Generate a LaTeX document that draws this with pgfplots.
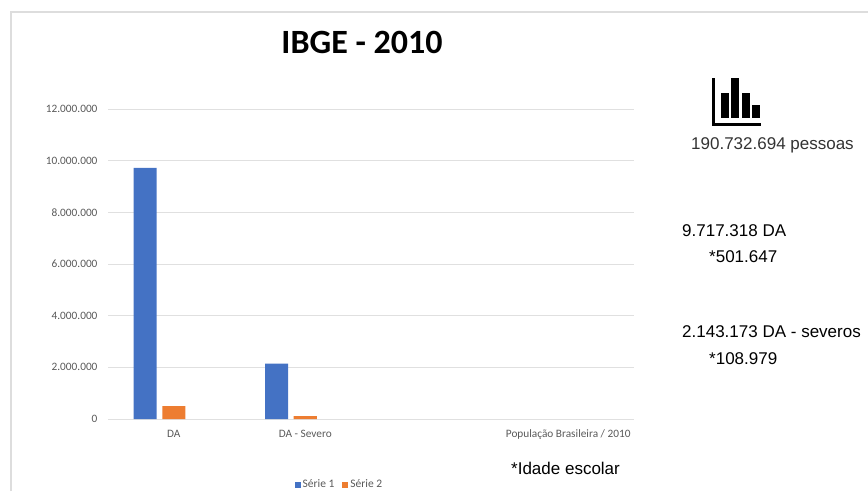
\documentclass[border=0pt]{standalone}
\usepackage{fontspec}
\setmainfont{Carlito}
\newfontfamily\arial{Liberation Sans}
\usepackage{pgfplots}
\pgfplotsset{compat=1.18}
\definecolor{serieA}{HTML}{4472C4}
\definecolor{serieB}{HTML}{ED7D31}
\definecolor{gridc}{HTML}{E0E0E0}
\definecolor{framec}{HTML}{DDDDDD}
\definecolor{tickc}{HTML}{595959}
\begin{document}
\begin{tikzpicture}[x=1pt,y=-1pt]
\useasboundingbox (0,0) rectangle (868,491);
% frame of the slide
\draw[framec,line width=2pt] (11,491) -- (11,12) -- (868,12);
\begin{axis}[
    at={(108pt,-419pt)},anchor=south west,
    scale only axis,width=526pt,height=310pt,
    ybar,
    bar width=23pt,
    xmin=-0.5,xmax=3.5,ymin=0,ymax=12000000,
    xtick={0,1,3},
    xticklabels={DA,DA - Severo,População Brasileira / 2010},
    ytick={0,2000000,4000000,6000000,8000000,10000000,12000000},
    yticklabel={\pgfmathprintnumber[assume math mode=true,fixed,1000 sep={.},precision=0]{\tick}},
    scaled y ticks=false,
    ymajorgrids,
    grid style={gridc,line width=0.7pt},
    axis x line*=bottom,
    axis y line*=left,
    x axis line style={gridc,line width=0.7pt,-},
    y axis line style={draw=none},
    major tick length=0pt,
    ticklabel style={font=\fontsize{11.3}{13}\selectfont,text=tickc},
    xticklabel style={yshift=-7pt,text height=8pt,text depth=3pt},
    yticklabel style={xshift=-7pt},
    legend style={at={(0.44,-0.212)},anchor=center,draw=none,fill=none,legend columns=2,
      font=\fontsize{11.5}{13}\selectfont,text=tickc,
      /tikz/every even column/.append style={column sep=6pt}},
    legend image code/.code={\fill[#1] (0pt,-3pt) rectangle (6pt,3pt);},
]
\addplot[fill=serieA,draw=none,bar shift=-28.5pt] coordinates {(0,9717318) (1,2143173)};
\addplot[fill=serieB,draw=none,bar shift=0pt] coordinates {(0,501647) (1,108979)};
\legend{Série 1,Série 2}
\end{axis}
\node[font=\fontsize{34}{36}\selectfont\bfseries,text=black] at (362,42) {IBGE - 2010};
% icon
\fill[black] (712,78) rectangle (715,126);
\fill[black] (712,123) rectangle (761,126);
\fill[black] (721,93) rectangle (729,118);
\fill[black] (731,78) rectangle (739,118);
\fill[black] (742,93) rectangle (750,118);
\fill[black] (752,105) rectangle (760,118);
\begin{scope}[every node/.style={font=\arial\fontsize{17}{19}\selectfont,text=black,anchor=base west,inner sep=0pt}]
\node[text=black!80] at (691,149) {190.732.694 pessoas};
\node at (682,236) {9.717.318 DA};
\node at (709,262) {*501.647};
\node at (682,337) {2.143.173 DA - severos};
\node at (709,364) {*108.979};
\node at (511,474) {*Idade escolar};
\end{scope}
\end{tikzpicture}
\end{document}
